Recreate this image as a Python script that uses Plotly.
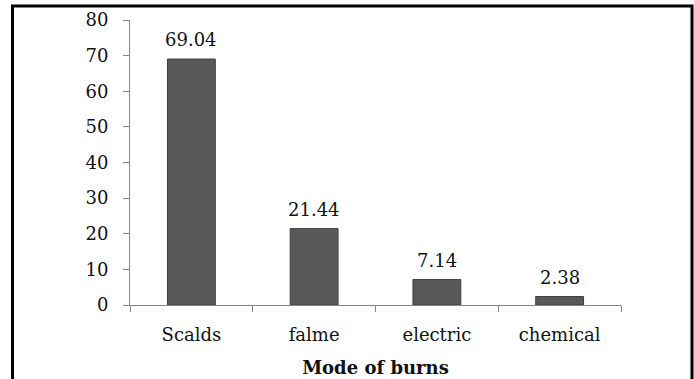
import plotly.graph_objects as go

categories = ["Scalds", "falme", "electric", "chemical"]
values = [69.04, 21.44, 7.14, 2.38]
labels = ["69.04", "21.44", "7.14", "2.38"]
y_ticks = [0, 10, 20, 30, 40, 50, 60, 70, 80]

FONT = "DejaVu Serif"
W, H = 694, 379
ml, mr, mt, mb = 130, 73, 20, 74
pw, ph = W - ml - mr, H - mt - mb

fig = go.Figure(go.Bar(
    x=categories, y=values,
    marker=dict(color="#595959", line=dict(color="#3f3f3f", width=1)),
    cliponaxis=False,
))

def px(x):
    return (x - ml) / pw

def py(y):
    return (H - mb - y) / ph

annotations = [
    dict(x=c, y=v, text=t, xref="x", yref="y", showarrow=False,
         yanchor="bottom", yshift=7, font=dict(family=FONT, size=18, color="#111111"))
    for c, v, t in zip(categories, values, labels)
]

fig.update_layout(
    width=W, height=H, margin=dict(l=ml, r=mr, t=mt, b=mb),
    paper_bgcolor="white", plot_bgcolor="white",
    bargap=0.61, showlegend=False,
    font=dict(family=FONT, size=18, color="#111111"),
    xaxis=dict(
        showline=True, linecolor="#868686", linewidth=1, automargin=False,
        ticks="outside", ticklen=6, tickcolor="#868686", tickson="boundaries",
        tickfont=dict(family=FONT, size=18), ticklabelstandoff=13,
        title=dict(text="<b>Mode of burns</b>", font=dict(family=FONT, size=18), standoff=17),
    ),
    yaxis=dict(
        range=[0, 80], tickvals=y_ticks, showgrid=False, zeroline=False,
        showline=True, linecolor="#868686", linewidth=1, automargin=False,
        ticks="outside", ticklen=6, tickcolor="#868686",
        tickfont=dict(family=FONT, size=18), ticklabelstandoff=11,
    ),
    annotations=annotations,
    shapes=[dict(
        type="rect", xref="paper", yref="paper",
        x0=px(12.5), x1=px(692), y0=py(W), y1=py(6),
        line=dict(color="black", width=3), fillcolor="rgba(0,0,0,0)",
    )],
)

fig.write_html("out.html")
